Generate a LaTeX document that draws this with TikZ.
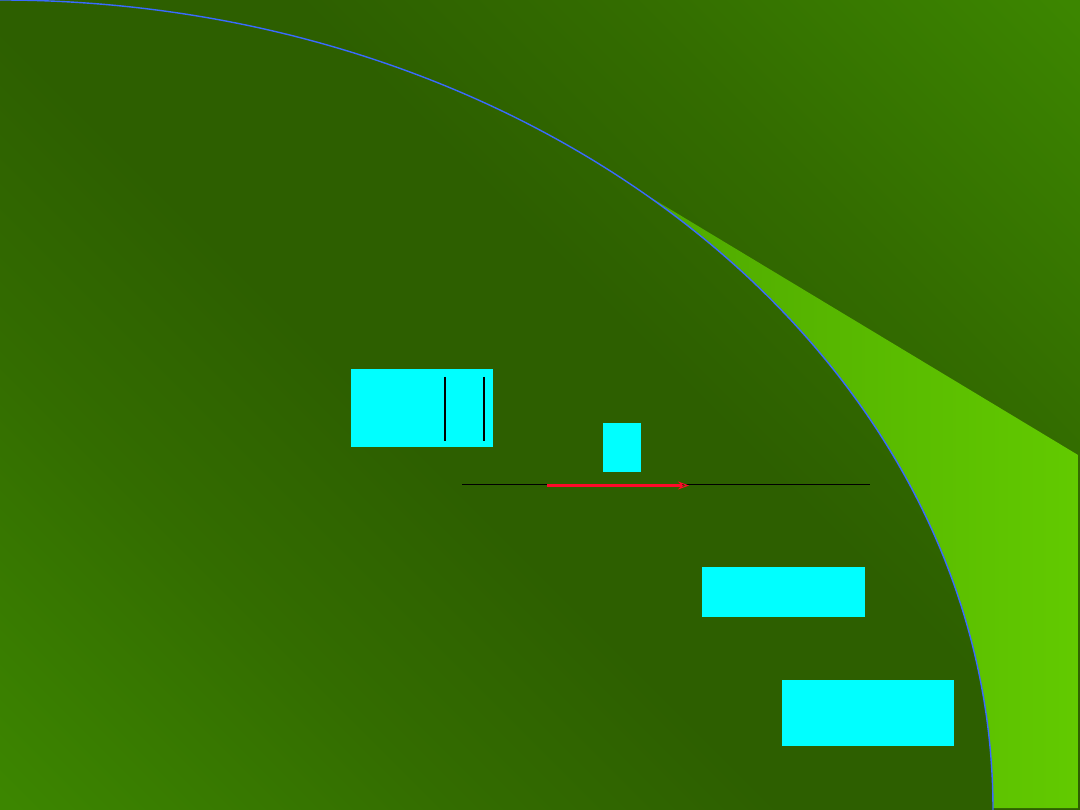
\documentclass[tikz,border=0pt]{standalone}
\usetikzlibrary{arrows.meta}
\definecolor{bglight}{HTML}{3C8600}
\definecolor{bgmid}{HTML}{336C00}
\definecolor{bgdark}{HTML}{2D5F00}
\definecolor{wedgeL}{HTML}{4DA500}
\definecolor{wedgeR}{HTML}{62CA00}
\definecolor{arcblue}{HTML}{3A6BFF}
\definecolor{boxcyan}{HTML}{00FFFF}
\definecolor{arrred}{HTML}{FF0A2A}
\pgfdeclareverticalshading{bgsh}{100bp}{color(0bp)=(bglight); color(15bp)=(bglight); color(32bp)=(bgmid); color(44bp)=(bgdark); color(56bp)=(bgdark); color(68bp)=(bgmid); color(85bp)=(bglight); color(100bp)=(bglight)}
\tikzset{
  cyanbox/.style={fill=boxcyan, draw=none, inner sep=0pt, anchor=north west},
  bgshade/.style={shading=bgsh, shading angle=-45},
}
\begin{document}
\begin{tikzpicture}[x=1pt,y=-1pt]
\useasboundingbox (0,0) rectangle (1080,810);
\clip (0,0) rectangle (1080,810);
% background
\shade[bgshade] (0,0) rectangle (1080,810);
% light wedge
\shade[left color=wedgeL, right color=wedgeR] (600,167) -- (1078,455) -- (1078,808) -- (600,808) -- cycle;
% ellipse interior redrawn with background shading
\begin{scope}
  \clip (0,810) ellipse[x radius=993, y radius=810];
  \shade[bgshade] (0,0) rectangle (1080,810);
\end{scope}
\draw[arcblue, line width=1.4pt] (0,810) ellipse[x radius=993, y radius=810];
% boxes
\node[cyanbox, minimum width=142pt, minimum height=78pt] (b1) at (351,369) {};
\node[cyanbox, minimum width=38pt, minimum height=49pt] (b2) at (603,423) {};
\node[cyanbox, minimum width=163pt, minimum height=50pt] (b3) at (702,567) {};
\node[cyanbox, minimum width=172pt, minimum height=66pt] (b4) at (782,680) {};
% vertical bars in box 1
\coordinate (v1t) at (445,377); \coordinate (v1b) at (445,441);
\coordinate (v2t) at (484,377); \coordinate (v2b) at (484,441);
\draw[black, line width=1.6pt] (v1t) -- (v1b);
\draw[black, line width=1.6pt] (v2t) -- (v2b);
% axis line
\coordinate (la) at (462,484.5); \coordinate (lb) at (870,484.5);
\draw[black, line width=0.9pt] (la) -- (lb);
% red arrow
\coordinate (ra) at (547,485.5); \coordinate (rb) at (681,485.5); \coordinate (rt) at (689,485.5);
\draw[arrred, line width=3.6pt] (ra) -- (rb);
\draw[arrred, line width=1pt, -{Stealth[open, length=11pt, width=8pt]}] (676,485.5) -- (rt);
\end{tikzpicture}
\end{document}
